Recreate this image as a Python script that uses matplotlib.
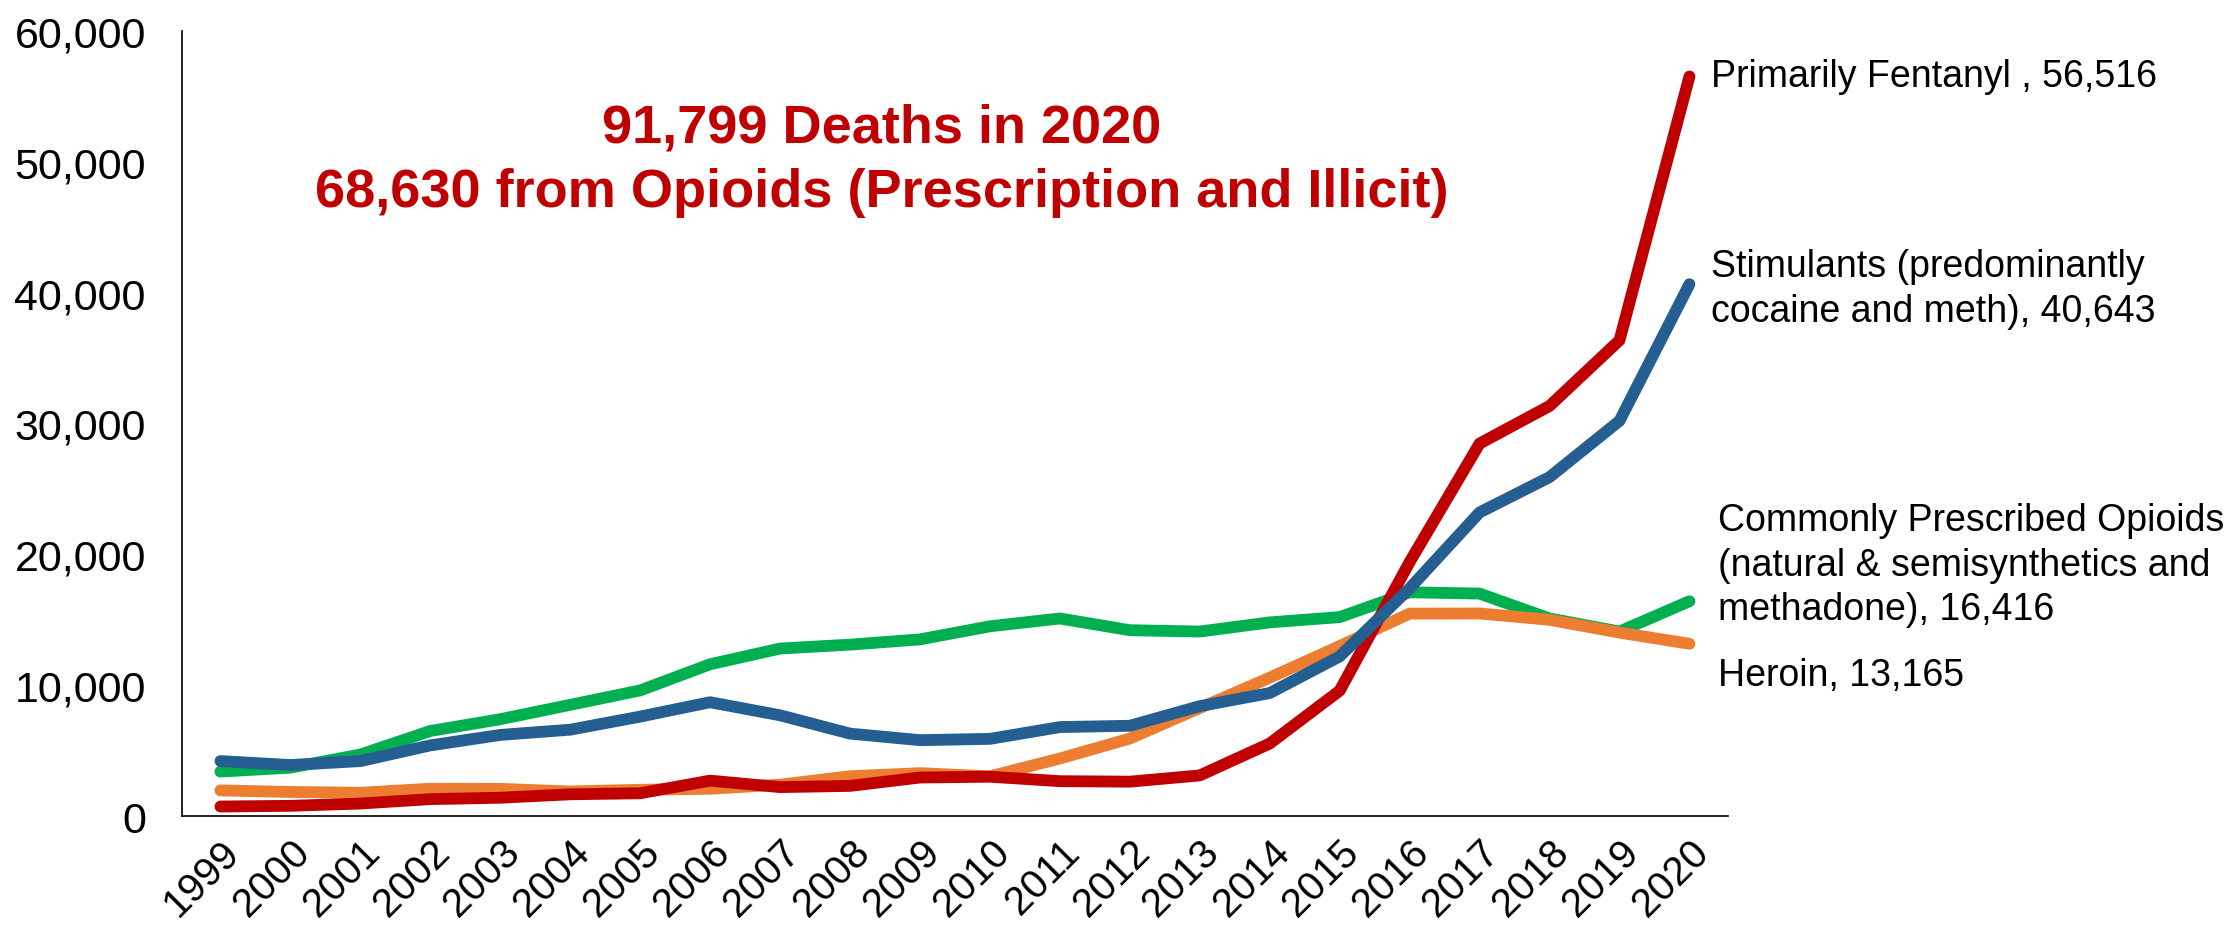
import matplotlib
matplotlib.use("Agg")
import matplotlib.pyplot as plt

# --- Datos ---
years = [str(y) for y in range(1999, 2021)]
fentanyl = [730, 782, 957, 1295, 1400, 1664, 1742, 2707, 2213, 2306, 2946,
            3007, 2666, 2628, 3105, 5544, 9580, 19413, 28466, 31335, 36359, 56516]
stimulants = [4200, 3900, 4200, 5400, 6200, 6600, 7600, 8700, 7700, 6300, 5800,
              5900, 6800, 6900, 8400, 9400, 12200, 17400, 23200, 25900, 30200, 40643]
prescribed = [3400, 3700, 4700, 6500, 7400, 8500, 9600, 11600, 12800, 13100, 13500,
              14500, 15100, 14200, 14100, 14800, 15200, 17100, 17000, 15100, 14100, 16416]
heroin = [1960, 1842, 1779, 2089, 2080, 1878, 2009, 2088, 2399, 3041, 3278,
          3036, 4397, 5925, 8257, 10574, 12989, 15469, 15482, 14996, 14019, 13165]

yticks = [0, 10000, 20000, 30000, 40000, 50000, 60000]
ytick_labels = ["0", "10,000", "20,000", "30,000", "40,000", "50,000", "60,000"]

RED = "#C00000"
BLUE = "#255E91"
GREEN = "#00B050"
ORANGE = "#ED7D31"

fig = plt.figure(figsize=(22.27, 9.37), dpi=100)
ax = fig.add_axes([0.0817, 0.1280, 0.6942, 0.8380])

x = list(range(len(years)))
lw = 8.5
for serie, col, z in [(prescribed, GREEN, 2), (heroin, ORANGE, 3),
                      (fentanyl, RED, 4), (stimulants, BLUE, 5)]:
    ax.plot(x, serie, color=col, lw=lw, solid_capstyle="round",
            solid_joinstyle="round", zorder=z)

ax.set_xlim(-0.55, 21.55)
ax.set_ylim(0, 60000)
ax.set_yticks(yticks)
ax.set_yticklabels(ytick_labels, fontfamily="Liberation Sans", fontsize=31)
ax.set_xticks(x)
ax.set_xticklabels(years, fontfamily="Liberation Sans", fontsize=29, rotation=45,
                   ha="right", va="top", rotation_mode="anchor")
ax.tick_params(axis="y", length=0, pad=26)
ax.tick_params(axis="x", length=0, pad=12)

for s in ["top", "right"]:
    ax.spines[s].set_visible(False)
for s in ["left", "bottom"]:
    ax.spines[s].set_linewidth(1.2)
    ax.spines[s].set_color("black")

# --- Etiquetas de series ---
lab = dict(fontfamily="Liberation Sans", fontsize=27, color="black",
           ha="left", va="center", linespacing=1.3)
ax.text(21.31, fentanyl[-1], "Primarily Fentanyl , 56,516", **lab)
ax.text(21.31, 40300, "Stimulants (predominantly\ncocaine and meth), 40,643", **lab)
ax.text(21.41, 19200, "Commonly Prescribed Opioids\n(natural & semisynthetics and\nmethadone), 16,416", **lab)
ax.text(21.41, 10750, "Heroin, 13,165", **lab)

# --- Titulo ---
tit = dict(fontfamily="Liberation Sans", fontsize=39, fontweight="bold", color=RED,
           ha="center", va="center")
fig.text(0.396, 0.8626, "91,799 Deaths in 2020", **tit)
fig.text(0.396, 0.794, "68,630 from Opioids (Prescription and Illicit)", **tit)

fig.savefig("out.png", dpi=100)
